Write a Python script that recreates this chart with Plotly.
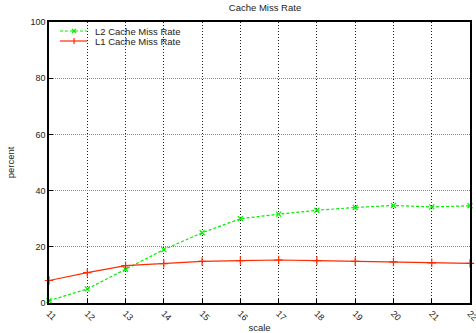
import plotly.graph_objects as go

scale = [11, 12, 13, 14, 15, 16, 17, 18, 19, 20, 21, 22]
l2_miss = [0.8, 5.0, 12.0, 19.0, 25.0, 30.0, 31.6, 33.0, 34.0, 34.7, 34.2, 34.6]
l1_miss = [8.0, 10.8, 13.3, 14.0, 14.8, 15.1, 15.3, 15.1, 14.8, 14.6, 14.3, 14.1]
series_names = ["L2 Cache Miss Rate", "L1 Cache Miss Rate"]

font = "Liberation Sans, Arial, sans-serif"
green = "#00ee00"
red = "#ff2a00"

W, H = 476, 333
L, R, T, B = 49, 6, 22, 30
pw, ph = W - L - R, H - T - B

def px(x):
    return (x - L) / pw

def py(y):
    return (H - B - y) / ph

fig = go.Figure()
fig.add_trace(go.Scatter(
    x=scale, y=l2_miss, mode="lines+markers", name=series_names[0],
    line=dict(color=green, width=1.2, dash="3px,2px"),
    marker=dict(symbol="x-thin", size=5, line=dict(color=green, width=1.2)),
    showlegend=False, cliponaxis=False,
))
fig.add_trace(go.Scatter(
    x=scale, y=l1_miss, mode="lines+markers", name=series_names[1],
    line=dict(color=red, width=1.2),
    marker=dict(symbol="cross-thin", size=6, line=dict(color=red, width=1.2)),
    showlegend=False, cliponaxis=False,
))

shapes = []
annotations = []
# manual compact legend
legend_rows = [(31, green, "dash", "x", series_names[0]), (41, red, "solid", "+", series_names[1])]
for yy, col, dash, sym, name in legend_rows:
    shapes.append(dict(type="line", xref="paper", yref="paper",
                       x0=px(60), x1=px(87), y0=py(yy), y1=py(yy),
                       line=dict(color=col, width=1.2, dash="3px,2px" if dash == "dash" else "solid")))
    if sym == "x":
        shapes.append(dict(type="line", xref="paper", yref="paper",
                           x0=px(72), x1=px(76), y0=py(yy - 2), y1=py(yy + 2), line=dict(color=col, width=1.2)))
        shapes.append(dict(type="line", xref="paper", yref="paper",
                           x0=px(72), x1=px(76), y0=py(yy + 2), y1=py(yy - 2), line=dict(color=col, width=1.2)))
    else:
        shapes.append(dict(type="line", xref="paper", yref="paper",
                           x0=px(74), x1=px(74), y0=py(yy - 3), y1=py(yy + 3), line=dict(color=col, width=1.2)))
    annotations.append(dict(text=name, xref="paper", yref="paper", x=px(93), y=py(yy),
                            xanchor="left", yanchor="middle", showarrow=False,
                            font=dict(size=9.5, family=font, color="#222")))

fig.update_layout(
    width=W, height=H,
    margin=dict(l=L, r=R, t=T, b=B),
    paper_bgcolor="white", plot_bgcolor="white",
    font=dict(family=font, size=9, color="#222"),
    title=dict(text="Cache Miss Rate", x=(265) / W, xanchor="center", y=1 - 8 / H, yanchor="middle",
               font=dict(size=9.5, family=font)),
    showlegend=False,
    shapes=shapes,
    annotations=annotations,
    xaxis=dict(
        range=[11, 22], tickvals=scale, ticktext=[str(s) for s in scale],
        tickangle=45, showgrid=True, gridcolor="#222", griddash="1px,2px", gridwidth=1,
        showline=True, linecolor="black", linewidth=1.5, mirror=True,
        ticks="inside", ticklen=4, tickcolor="black",
        title=dict(text="scale", standoff=0, font=dict(size=9.5, family=font)),
        zeroline=False, tickfont=dict(size=9, family=font, color="#222"),
        automargin=False, ticklabeloverflow="allow",
    ),
    yaxis=dict(
        range=[0, 100], tickvals=[0, 20, 40, 60, 80, 100],
        showgrid=True, gridcolor="#888", griddash="1px,1px", gridwidth=1,
        showline=True, linecolor="black", linewidth=1.5, mirror=True,
        ticks="inside", ticklen=4, tickcolor="black",
        title=dict(text="percent", standoff=14, font=dict(size=9.5, family=font)),
        zeroline=False, tickfont=dict(size=9, family=font, color="#222"),
        automargin=False,
    ),
)

fig.write_html("out.html")
